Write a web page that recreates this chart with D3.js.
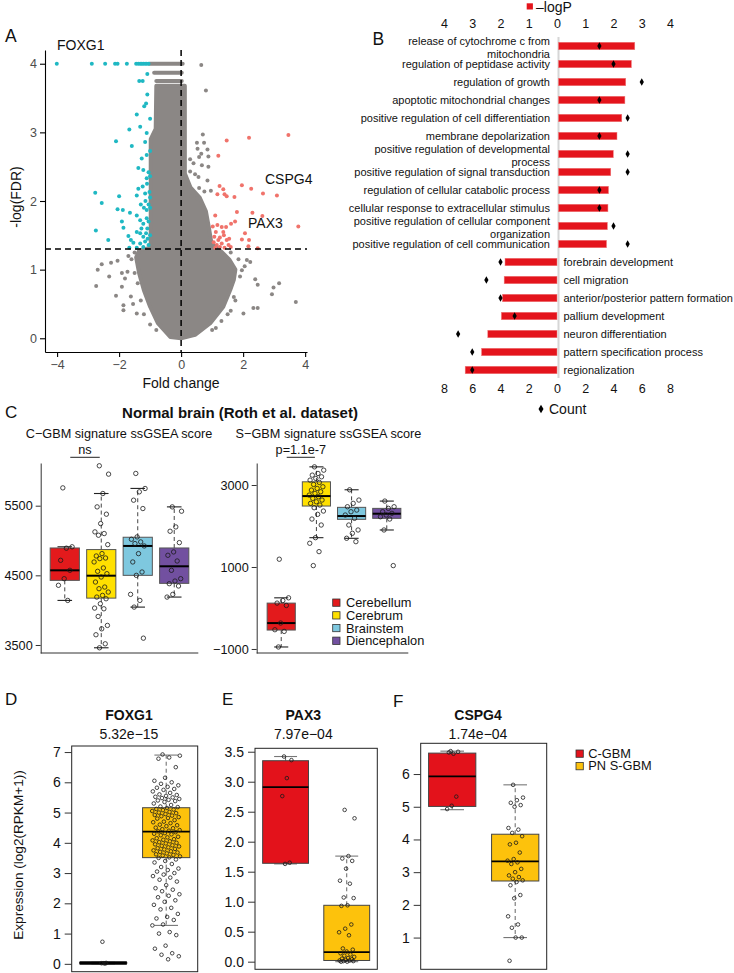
<!DOCTYPE html>
<html><head><meta charset="utf-8">
<script src="https://cdn.jsdelivr.net/npm/d3@7"></script>
<style>
body{margin:0;background:#fff}
svg{display:block;font-family:"Liberation Sans",Arial,Helvetica,sans-serif}
</style>
</head><body>
<svg id="fig" width="734" height="973"></svg>
<script>
// ================= DATA =================
// --- Panel A (volcano): dense grey cloud outline, stacked top rows and individual points [foldChange, -log(FDR)]
const volcanoCloud = [
  [-0.80,3.68],[0.12,3.68],[0.12,2.4],[0.3,2.2],[0.6,2.05],[0.8,1.85],[0.9,1.6],[0.98,1.38],
  [1.3,1.26],[1.55,1.15],[1.75,1.0],[1.7,0.85],[1.58,0.70],[1.36,0.46],[0.94,0.22],[0.45,0.05],
  [0.0,0.0],[-0.35,0.02],[-0.75,0.22],[-1.0,0.46],[-1.2,0.70],[-1.35,0.94],[-1.45,1.18],
  [-1.35,1.28],[-0.98,1.32],[-0.98,2.9],[-0.82,3.05]
];
const volcanoRows = [[-1.02,0.05,4.0],[-0.87,0.02,3.87],[-0.80,0.02,3.75]];
const volcanoGray = [
  [0.65,3.98],[0.80,3.61],[0.70,2.97],[0.51,2.85],[0.74,2.85],[0.53,2.76],[0.85,2.75],[0.65,2.69],
  [0.58,2.64],[0.88,2.65],[0.29,2.61],[0.40,2.55],[0.67,2.52],[0.88,2.50],[0.29,2.43],[0.45,2.39],
  [0.56,2.35],[0.85,2.30],[0.58,2.19],[0.75,2.14],[0.96,2.15],[0.34,2.07],[0.51,2.04],
  [2.12,1.14],[2.23,1.11],[2.39,0.86],[2.47,0.78],[2.98,0.74],[3.16,0.80],[2.93,0.64],[3.70,0.53],
  [2.33,0.44],[2.47,0.44],[2.01,0.36],[1.12,0.15],[1.96,0.99],[2.05,1.05],[1.75,0.55],[1.60,0.40],
  [1.6,1.25],[1.85,1.15],[1.9,0.9],[1.7,0.6],[1.5,0.35],[1.3,0.25],[1.0,0.12],
  [-2.56,1.08],[-2.69,1.0],[-2.26,1.10],[-2.05,1.13],[-2.32,0.90],[-2.74,0.76],[-2.10,0.62],
  [-1.91,0.75],[-1.86,0.48],[-1.86,0.41],[-1.43,0.36],[-1.91,0.95],[-1.73,0.97],[-1.81,0.87],
  [-1.62,0.61],[-1.7,1.2],[-1.55,0.5],[-1.5,1.25],[-1.6,1.15],[-1.5,0.95],[-1.4,0.8],[-1.3,0.55],
  [-1.2,0.35],[-1.0,0.2],[-0.8,0.12]
];
const volcanoDown = [
  [-4.01,4],[-2.88,4],[-2.45,4],[-2.13,4],[-2.05,4],[-1.75,4],[-1.45,4],[-1.38,4],[-1.32,4],[-1.27,4],
  [-1.22,4],[-1.16,4],[-1.11,4],[-1.05,4],
  [-1.09,3.85],[-1.35,3.75],[-1.24,3.75],[-1.09,3.55],[-1.13,3.42],[-1.19,3.38],[-1.43,3.26],[-1.0,3.20],
  [-1.32,3.08],[-1.67,3.04],[-1.11,2.99],[-2.10,2.87],[-1.59,2.80],[-1.16,2.86],[-1.0,2.73],[-1.11,2.67],
  [-1.27,2.62],[-1.38,2.48],[-1.22,2.45],[-1.05,2.42],[-1.11,2.33],[-1.0,2.36],[-2.77,2.12],[-2.0,2.07],
  [-1.38,2.18],[-1.24,2.21],[-1.16,2.11],[-1.02,2.13],[-1.43,2.08],[-2.56,1.97],[-2.05,1.88],[-1.88,1.87],
  [-1.65,1.83],[-1.43,1.79],[-1.91,1.70],[-1.86,1.61],[-1.32,1.72],[-1.22,1.67],[-1.11,1.75],[-1.11,1.87],
  [-2.75,1.57],[-2.35,1.43],[-1.70,1.49],[-1.62,1.43],[-1.43,1.55],[-1.32,1.53],[-1.22,1.48],[-1.54,1.39],
  [-1.32,1.38],[-1.16,1.41],[-1.05,1.36],[-1.67,1.32],[-1.43,1.32],[-1.22,1.33],[-1.13,1.53],[-1.09,1.60],
  [-1.05,1.95],[-1.15,2.0],[-1.05,1.7],[-1.2,1.9],[-1.28,1.6],[-1.08,1.45],[-1.0,1.5],[-1.0,1.9],
  [-1.0,2.05],[-1.3,1.95],[-1.1,2.25]
];
const volcanoUp = [
  [1.47,2.88],[2.19,2.92],[3.46,2.96],[1.20,2.66],[1.24,2.22],[1.36,2.17],[1.96,2.23],[2.26,2.18],
  [1.17,2.10],[1.40,2.10],[1.47,2.07],[1.72,2.06],[2.64,2.11],[3.09,2.08],[1.80,1.84],[2.30,1.83],
  [1.10,1.79],[2.62,1.78],[1.61,1.67],[1.74,1.70],[1.17,1.65],[1.02,1.63],[1.31,1.62],[3.78,1.63],
  [1.36,1.55],[2.06,1.53],[1.96,1.44],[2.19,1.43],[1.07,1.48],[1.20,1.43],[1.47,1.43],[2.17,1.34],
  [2.47,1.31],[1.15,1.36],[1.53,1.36],[1.31,1.38],[1.1,1.32],[1.25,1.33],[1.4,1.32],[1.6,1.33],
  [1.05,1.40],[1.25,1.47],[1.38,1.50],[1.55,1.45],[1.12,1.55],[1.45,1.62]
];
const volcanoXTicks = [-4,-2,0,2,4];
const volcanoYTicks = [0,1,2,3,4];
const fdrThreshold = 1.3;

// --- Panel B (GO terms)
const upTerms = [
  "release of cytochrome c from\nmitochondria","regulation of peptidase activity","regulation of growth",
  "apoptotic mitochondrial changes","positive regulation of cell differentiation","membrane depolarization",
  "positive regulation of developmental \nprocess","positive regulation of signal transduction",
  "regulation of cellular catabolic process","cellular response to extracellular stimulus",
  "positive regulation of cellular component \norganization","positive regulation of cell communication"
];
const upLogP  = [2.70,2.58,2.38,2.35,2.24,2.07,1.94,1.85,1.77,1.75,1.73,1.70];
const upCount = [3,4,6,3,5,3,5,5,3,3,4,5];
const downTerms = ["forebrain development","cell migration","anterior/posterior pattern formation",
  "pallium development","neuron differentiation","pattern specification process","regionalization"];
const downLogP  = [1.84,1.87,1.93,1.97,2.45,2.67,3.25];
const downCount = [4,5,4,3,7,6,6];
const logPTicks = [-4,-3,-2,-1,0,1,2,3,4];
const countTicks = [-8,-6,-4,-2,0,2,4,6,8];

// --- Panel C (Roth et al.)
const regions = ["Cerebellum","Cerebrum","Brainstem","Diencephalon"];
const cgbmStats = [[4140,4428,4572,4893,4910],[3460,4173,4495,4870,5675],[4044,4500,4922,5047,5748],[4188,4385,4630,4893,5483]];
const cgbmPoints = [
  [5756,4910,4890,4716,4572,4452,4357,4140],
  [6073,5953,5675,5483,5378,5243,5124,5100,5076,4941,4812,4778,4749,4740,4692,4606,4558,4524,4476,4404,
   4332,4308,4260,4212,4188,4164,4092,4030,4020,3910,3781,3732,3647,3517,3460],
  [5963,5747,5699,5579,5459,5052,5018,4980,4956,4922,4812,4692,4548,4500,4227,4140,4044,3598],
  [5483,5421,5195,5133,4970,4836,4788,4706,4572,4452,4418,4380,4347,4227,4188]
];
const sgbmStats = [[-951,-538,-368,119,248],[1715,2487,2730,3078,3443],[1700,2163,2243,2455,2884],[1903,2187,2300,2430,2608]];
const sgbmPoints = [
  [1190,248,182,119,61,-367,-530,-571,-951],
  [3443,3362,3282,3241,3200,3160,3119,3063,3014,2957,2917,2876,2835,2796,2754,2713,2674,2633,2591,2552,
   2511,2446,2365,2285,2170,2024,1715,1579,1375,1034],
  [2883,2633,2552,2470,2389,2348,2268,2187,2024,1903,1822,1701,1618],
  [2608,2470,2431,2348,2309,2268,2226,2170,1903,1034]
];
const cgbmTicks = [3500,4500,5500];
const sgbmTicks = [-1000,1000,3000];

// --- Panels D-F
const gbmGroups = ["C-GBM","PN S-GBM"];
const foxg1Stats = [[0.0,0.02,0.03,0.04,0.05],[1.27,3.51,4.37,5.16,6.9]];
const foxg1Points = [
  [0.73,0.03,0.02,0.02,0.01],
  [6.92,6.88,6.82,6.78,6.5,6.15,6.05,6.0,5.95,5.9,5.85,5.82,5.78,5.75,5.7,5.65,5.6,5.58,5.55,5.52,5.5,5.48,
   5.45,5.42,5.4,5.38,5.35,5.3,5.25,5.2,5.18,5.15,5.12,5.1,5.08,5.05,5.02,5.0,4.98,4.95,4.92,4.9,4.88,4.85,
   4.82,4.8,4.75,4.7,4.68,4.65,4.6,4.58,4.55,4.5,4.48,4.45,4.42,4.4,4.38,4.35,4.32,4.3,4.28,4.25,4.2,4.18,
   4.15,4.12,4.1,4.08,4.05,4.02,4.0,3.98,3.95,3.92,3.9,3.88,3.85,3.82,3.8,3.78,3.75,3.72,3.7,3.68,3.65,3.62,
   3.6,3.58,3.55,3.52,3.5,3.45,3.4,3.35,3.3,3.2,3.15,3.1,3.05,3.0,2.95,2.9,2.85,2.78,2.72,2.6,2.5,2.45,2.4,
   2.3,2.25,2.2,2.1,2.05,1.95,1.85,1.8,1.65,1.55,1.5,1.45,1.3,1.27,1.05,1.0,0.95,0.6,0.5,0.35,0.3,0.25,0.15]
];
const pax3Stats = [[1.63,1.64,2.91,3.35,3.42],[0.0,0.02,0.16,0.94,1.76]];
const pax3Points = [
  [3.42,3.36,3.06,2.76,1.65,1.63],
  [2.53,2.39,1.76,1.72,1.68,1.55,1.35,1.30,1.07,1.06,0.94,0.93,0.62,0.55,0.49,0.44,0.22,0.2,0.17,0.14,
   0.12,0.1,0.08,0.06,0.05,0.04,0.03,0.02,0.02,0.01,0.01,0.0,0.0]
];
const cspg4Stats = [[4.91,5.01,5.93,6.64,6.70],[1.0,2.73,3.33,4.16,5.67]];
const cspg4Points = [
  [6.70,6.68,6.62,6.66,5.31,5.03,4.93],
  [5.67,5.28,5.2,5.12,5.05,5.0,4.35,4.3,4.2,4.1,3.9,3.85,3.6,3.4,3.35,3.3,3.25,3.1,3.0,2.9,2.85,2.8,
   2.75,2.7,2.6,2.3,2.2,1.65,1.4,1.3,1.0,1.0,0.29]
];
const foxg1Ticks = [0,1,2,3,4,5,6,7];
const pax3Ticks = [0,0.5,1,1.5,2,2.5,3,3.5];
const cspg4Ticks = [1,2,3,4,5,6];

// ================= DRAWING =================
const svg = d3.select("#fig");
svg.append("rect").attr("width",734).attr("height",973).attr("fill","#fff");
const GRAY = "#8b8785", CYAN = "#1fb8c3", SALMON = "#f0736b";
const jit = i => ((i * 0.61803398875 + 0.37) % 1) - 0.5;
const intFmt = d3.format("d");

function label(t, x, y, size, opts={}) {
  return svg.append("text").attr("x",x).attr("y",y).attr("font-size",size)
    .attr("font-weight",opts.bold?"bold":null).attr("text-anchor",opts.anchor||"start")
    .attr("fill",opts.fill||"#111").text(t);
}

// ---------- Panel A ----------
{
  const vx = d3.scaleLinear().domain([-4.39,4.06]).range([45,307]);
  const vy = d3.scaleLinear().domain([-0.2,4.2]).range([352,50]);
  const g = svg.append("g");
  g.append("path").datum(volcanoCloud)
    .attr("d", d3.line().x(d=>vx(d[0])).y(d=>vy(d[1])).curve(d3.curveLinearClosed))
    .attr("fill",GRAY).attr("stroke",GRAY).attr("stroke-width",4).attr("stroke-linejoin","round");
  g.selectAll(".row").data(volcanoRows).join("line")
    .attr("x1",d=>vx(d[0])).attr("x2",d=>vx(d[1])).attr("y1",d=>vy(d[2])).attr("y2",d=>vy(d[2]))
    .attr("stroke",GRAY).attr("stroke-width",4).attr("stroke-linecap","round");
  const dots = (data,col) => g.append("g").selectAll("circle").data(data).join("circle")
    .attr("cx",d=>vx(d[0])).attr("cy",d=>vy(d[1])).attr("r",2).attr("fill",col);
  dots(volcanoGray,GRAY); dots(volcanoDown,CYAN); dots(volcanoUp,SALMON);
  g.append("line").attr("x1",vx(0)).attr("x2",vx(0)).attr("y1",vy(4.2)).attr("y2",vy(-0.2))
    .attr("stroke","#000").attr("stroke-width",1.5).attr("stroke-dasharray","6,4");
  g.append("line").attr("x1",45).attr("x2",307).attr("y1",vy(fdrThreshold)).attr("y2",vy(fdrThreshold))
    .attr("stroke","#000").attr("stroke-width",1.5).attr("stroke-dasharray","6,4");
  const ax = g.append("g").attr("transform","translate(45,0)")
    .call(d3.axisLeft(vy).tickValues(volcanoYTicks).tickFormat(intFmt).tickSize(5).tickSizeOuter(0));
  const bx = g.append("g").attr("transform","translate(0,352)")
    .call(d3.axisBottom(vx).tickValues(volcanoXTicks).tickFormat(intFmt).tickSize(5).tickSizeOuter(0));
  [ax,bx].forEach(a=>{a.selectAll("text").attr("font-size",12.5).attr("fill","#4d4d4d");
    a.selectAll("path,line").attr("stroke","#000").attr("stroke-width",1.1);});
  label("Fold change",181,388,14,{anchor:"middle"});
  svg.append("text").attr("transform","translate(21,197) rotate(-90)").attr("text-anchor","middle")
    .attr("font-size",14).attr("fill","#111").text("-log(FDR)");
  label("A",5,42,17.5);
  label("FOXG1",57,50,14);
  label("CSPG4",265,184,14);
  label("PAX3",248,228,14);
}

// ---------- Panel B ----------
{
  const bxs = d3.scaleLinear().domain([-4,4]).range([444,670]);
  const cxs = d3.scaleLinear().domain([-8,8]).range([444,670]);
  const rows = d3.scaleBand().domain(d3.range(19)).range([37,379]);
  const g = svg.append("g");
  g.append("line").attr("x1",bxs(0)+1.5).attr("x2",bxs(0)+1.5).attr("y1",37).attr("y2",378)
    .attr("stroke","#d6d6d6").attr("stroke-width",2);
  const bh = 7.5;
  const up = upTerms.map((t,i)=>({t,p:upLogP[i],c:upCount[i],r:i,side:1}));
  const dn = downTerms.map((t,i)=>({t,p:downLogP[i],c:downCount[i],r:i+12,side:-1}));
  const all = up.concat(dn);
  const cy = d => rows(d.r)+rows.bandwidth()/2;
  g.selectAll(".bar").data(all).join("rect")
    .attr("x",d=>d.side>0?bxs(0)+1.5:bxs(-d.p)).attr("width",d=>Math.abs(bxs(d.p)-bxs(0)))
    .attr("y",d=>cy(d)-bh/2).attr("height",bh).attr("fill","#e4141c").attr("stroke","#f08080").attr("stroke-width",0.5);
  g.selectAll(".dia").data(all).join("path")
    .attr("transform",d=>`translate(${cxs(d.side*d.c)},${cy(d)})`)
    .attr("d",d3.symbol(d3.symbolDiamond,16)).attr("fill","#000");
  up.forEach(d=>{
    const lines = d.t.split("\n");
    if(lines.length===1){ label(lines[0],550,cy(d)+3.8,11,{anchor:"end"}); }
    else { label(lines[0],550,cy(d)-0.8,11,{anchor:"end"}); label(lines[1],550,cy(d)+11.5,11,{anchor:"end"}); }
  });
  dn.forEach(d=>label(d.t,563.5,cy(d)+3.8,11));
  const top = g.append("g").attr("transform","translate(0,31)")
    .call(d3.axisTop(bxs).tickValues(logPTicks).tickFormat(d=>Math.abs(d)).tickSize(0).tickPadding(3));
  const bot = g.append("g").attr("transform","translate(0,381.5)")
    .call(d3.axisBottom(cxs).tickValues(countTicks).tickFormat(d=>Math.abs(d)).tickSize(0).tickPadding(3));
  [top,bot].forEach(a=>{a.select(".domain").remove(); a.selectAll("text").attr("font-size",12.5).attr("fill","#111");});
  g.append("rect").attr("x",526.7).attr("y",3.3).attr("width",6.2).attr("height",6.2).attr("fill","#e4141c");
  label("–logP",536,12,14);
  g.append("path").attr("transform","translate(541,409)").attr("d",d3.symbol(d3.symbolDiamond,22)).attr("fill","#000");
  label("Count",549,414,14);
  label("B",372.5,44.5,17.5);
}

// ---------- boxplot helper ----------
function drawBox(g, xc, bw, st, fill, y, o) {
  const cw = bw*o.cap;
  const wc = o.whiskerColor || "#555";
  g.append("line").attr("x1",xc).attr("x2",xc).attr("y1",y(st[3])).attr("y2",y(st[4]))
    .attr("stroke",wc).attr("stroke-width",1).attr("stroke-dasharray","4,3");
  g.append("line").attr("x1",xc).attr("x2",xc).attr("y1",y(st[1])).attr("y2",y(st[0]))
    .attr("stroke",wc).attr("stroke-width",1).attr("stroke-dasharray","4,3");
  [st[0],st[4]].forEach(v=>g.append("line").attr("x1",xc-cw/2).attr("x2",xc+cw/2)
    .attr("y1",y(v)).attr("y2",y(v)).attr("stroke",o.capColor||"#333").attr("stroke-width",1.1));
  g.append("rect").attr("x",xc-bw/2).attr("width",bw).attr("y",y(st[3])).attr("height",Math.max(0.5,y(st[1])-y(st[3])))
    .attr("fill",fill).attr("stroke",o.boxStroke||"#555").attr("stroke-width",1);
  g.append("line").attr("x1",xc-bw/2).attr("x2",xc+bw/2).attr("y1",y(st[2])).attr("y2",y(st[2]))
    .attr("stroke","#000").attr("stroke-width",o.medW||2);
}
function drawPts(g, xc, vals, y, spread, r) {
  g.append("g").selectAll("circle").data(vals).join("circle")
    .attr("cx",(d,i)=>xc+jit(i)*spread).attr("cy",d=>y(d)).attr("r",r)
    .attr("fill","none").attr("stroke","#1a1a1a").attr("stroke-width",0.8);
}

// ---------- Panel C ----------
{
  const cCols = ["#e31a1c","#ffe000","#7ec8df","#7250a0"];
  const g = svg.append("g");
  label("C",5,418,17);
  label("Normal brain (Roth et al. dataset)",240,418,15,{bold:true,anchor:"middle"});
  label("C−GBM signature ssGSEA score",119,438,12.7,{anchor:"middle"});
  label("S−GBM signature ssGSEA score",328.5,438,12.7,{anchor:"middle"});
  const panels = [
    {stats:cgbmStats,pts:cgbmPoints,ticks:cgbmTicks,dom:[3385,6113],x0:40.7,x1:198.3,sig:"ns"},
    {stats:sgbmStats,pts:sgbmPoints,ticks:sgbmTicks,dom:[-1098,3537],x0:256.7,x1:408.3,sig:"p=1.1e-7"}
  ];
  panels.forEach((p,pi)=>{
    const y = d3.scaleLinear().domain(p.dom).range([653,463]);
    const span = pi===0 ? [40.7,198.3] : [258.0,410.0];
    const x = d3.scaleLinear().domain([0.34,4.66]).range(span);
    const bw = x(1.8)-x(1);
    regions.forEach((r,i)=>{
      drawBox(g,x(i+1),bw,p.stats[i],cCols[i],y,{cap:0.5,whiskerColor:"#444",capColor:"#222"});
      drawPts(g,x(i+1),p.pts[i],y,15,2.2);
    });
    const a = g.append("g").attr("transform",`translate(${p.x0},0)`)
      .call(d3.axisLeft(y).tickValues(p.ticks).tickFormat(intFmt).tickSize(5).tickSizeOuter(0));
    a.selectAll("text").attr("font-size",12.7).attr("fill","#111");
    a.selectAll("path,line").attr("stroke","#333");
    g.append("line").attr("x1",p.x0).attr("x2",p.x1).attr("y1",653).attr("y2",653).attr("stroke","#333");
    const sx = (x(1)+x(2))/2;
    g.append("line").attr("x1",x(1)+5.5).attr("x2",x(2)-1.5).attr("y1",457.3).attr("y2",457.3).attr("stroke","#222");
    label(p.sig,sx+2,454,12.7,{anchor:"middle"});
  });
  regions.forEach((r,i)=>{
    g.append("rect").attr("x",332.7).attr("y",599+i*12.7).attr("width",7.3).attr("height",7.3)
      .attr("fill",cCols[i]).attr("stroke","#333").attr("stroke-width",0.8);
    label(r,346,607.3+i*12.7,12.8);
  });
}

// ---------- Panels D, E, F ----------
{
  const gCols = ["#e3121b","#fdc20c"];
  const g = svg.append("g");
  const specs = [
    {name:"FOXG1",p:"5.32e−15",stats:foxg1Stats,pts:foxg1Points,ticks:foxg1Ticks,fmt:d3.format("d"),
     fx0:71.7,fx1:197.7,fy0:746,fy1:971.7,ydom:[-0.26,7.2],tcx:129,spread:[6,28],letter:"D",lx:5,ly:705},
    {name:"PAX3",p:"7.97e−04",stats:pax3Stats,pts:pax3Points,ticks:pax3Ticks,fmt:d3.format(".1f"),
     fx0:255,fx1:377.3,fy0:748.3,fy1:969.3,ydom:[-0.127,3.557],tcx:303.3,spread:[12,16],letter:"E",lx:222,ly:705},
    {name:"CSPG4",p:"1.74e−04",stats:cspg4Stats,pts:cspg4Points,ticks:cspg4Ticks,fmt:d3.format("d"),
     fx0:420.7,fx1:546.7,fy0:743.3,fy1:969.3,ydom:[0.03,6.94],tcx:478,spread:[12,16],letter:"F",lx:393,ly:707}
  ];
  specs.forEach(s=>{
    const y = d3.scaleLinear().domain(s.ydom).range([s.fy1,s.fy0]);
    const x = d3.scaleLinear().domain([0.5,2.5]).range([s.fx0,s.fx1]);
    const bw = x(1.75)-x(1);
    gbmGroups.forEach((gr,i)=>{
      const collapsed = (s.stats[i][3]-s.stats[i][1]) < 0.05;
      drawBox(g,x(i+1),bw,s.stats[i],gCols[i],y,{cap:0.5,whiskerColor:"#666",capColor:"#777",boxStroke:"#444",medW:collapsed?3.5:1.8});
      drawPts(g,x(i+1),s.pts[i],y,s.spread[i],1.8);
    });
    g.append("rect").attr("x",s.fx0).attr("y",s.fy0).attr("width",s.fx1-s.fx0).attr("height",s.fy1-s.fy0)
      .attr("fill","none").attr("stroke","#222").attr("stroke-width",1);
    const a = g.append("g").attr("transform",`translate(${s.fx0},0)`)
      .call(d3.axisLeft(y).tickValues(s.ticks).tickFormat(s.fmt).tickSize(7).tickPadding(4).tickSizeOuter(0));
    a.select(".domain").remove();
    a.selectAll("text").attr("font-size",14).attr("fill","#111");
    a.selectAll("line").attr("stroke","#333");
    label(s.name,s.tcx,720,14,{bold:true,anchor:"middle"});
    label(s.p,s.tcx,739,14,{anchor:"middle"});
    label(s.letter,s.lx,s.ly,17);
  });
  svg.append("text").attr("transform","translate(23,855) rotate(-90)").attr("text-anchor","middle")
    .attr("font-size",13.6).attr("fill","#111").text("Expression (log2(RPKM+1))");
  gbmGroups.forEach((gr,i)=>{
    g.append("rect").attr("x",576).attr("y",750+i*12.5).attr("width",7.3).attr("height",7.3)
      .attr("fill",gCols[i]).attr("stroke","#333").attr("stroke-width",0.8);
    label(gr,588.3,757.5+i*12.5,12.8);
  });
}
</script>
</body></html>
